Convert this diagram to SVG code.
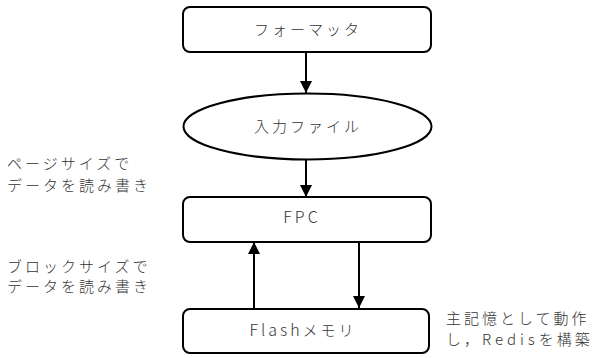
<svg xmlns="http://www.w3.org/2000/svg" width="595" height="358" viewBox="0 0 595 358">
<defs>
<marker id="ah" markerUnits="userSpaceOnUse" markerWidth="12" markerHeight="14" viewBox="0 0 12 14" refX="12" refY="6" orient="auto">
<path d="M0,0 L12,6 L0,12 Z" fill="#000"/>
</marker>
<style>
.box{fill:#fff;stroke:#000;stroke-width:2}
.t{font-family:"Noto Sans CJK JP","Noto Sans",sans-serif;font-size:15px;fill:#333;letter-spacing:3px;font-weight:300}
.l{letter-spacing:3px;font-size:16px}
.c{text-anchor:middle}
.e{stroke:#000;stroke-width:2;fill:none;marker-end:url(#ah)}
</style>
</defs>
<rect width="595" height="358" fill="#fff"/>
<g id="connectors">
<line class="e" x1="306" y1="53" x2="306" y2="93"/>
<line class="e" x1="306" y1="160" x2="306" y2="197"/>
<line class="e" x1="254" y1="309" x2="254" y2="242"/>
<line class="e" x1="359" y1="242" x2="359" y2="308"/>
</g>
<g id="formatter">
<rect class="box" x="183" y="7" width="248" height="45" rx="7"/>
<text class="t c" x="308" y="35">フォーマッタ</text>
</g>
<g id="inputfile">
<ellipse class="box" cx="307.5" cy="126.5" rx="124" ry="33"/>
<text class="t c" x="308" y="132">入力ファイル</text>
</g>
<g id="fpc">
<rect class="box" x="183" y="197" width="248" height="45" rx="7"/>
<text class="t c l" x="302" y="223">FPC</text>
</g>
<g id="flash">
<rect class="box" x="183" y="309" width="246" height="44" rx="7"/>
<text class="t c" x="303" y="336"><tspan class="l">Flash</tspan>メモリ</text>
</g>
<g id="labels">
<text class="t" x="7" y="168.5">ページサイズで</text>
<text class="t" x="7" y="190.5">データを読み書き</text>
<text class="t" x="7" y="271.5">ブロックサイズで</text>
<text class="t" x="7" y="291.5">データを読み書き</text>
<text class="t" x="446" y="324">主記憶として動作</text>
<text class="t" x="446" y="345">し，<tspan letter-spacing="4px">Redis</tspan>を構築</text>
</g>
</svg>
